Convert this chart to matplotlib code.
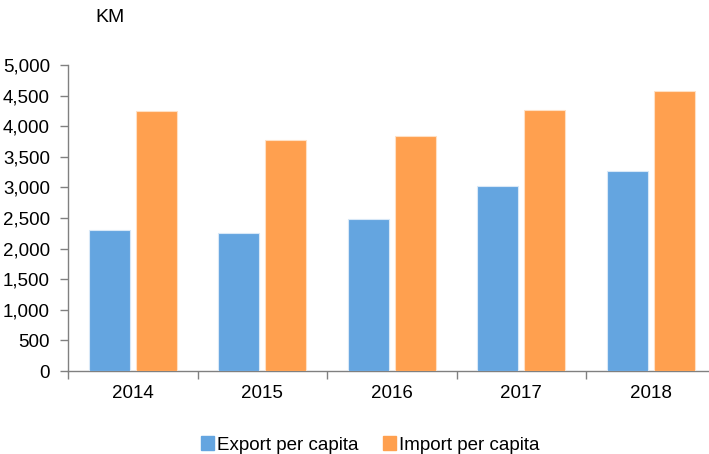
import matplotlib
matplotlib.use("Agg")
import matplotlib.pyplot as plt
import numpy as np
from matplotlib.patches import Patch

years = ["2014", "2015", "2016", "2017", "2018"]
export_pc = [2310, 2255, 2490, 3025, 3275]
import_pc = [4250, 3770, 3840, 4265, 4570]
yticks = [0, 500, 1000, 1500, 2000, 2500, 3000, 3500, 4000, 4500, 5000]

plt.rcParams['font.family'] = ['Liberation Sans', 'DejaVu Sans']
fs = 13.5

blue = "#64A5E0"
orange = "#FFA04F"
gray = "#808080"

fig = plt.figure(figsize=(7.09, 4.54), dpi=100)
ax = fig.add_axes([68/709, (454-371)/454, (715.5-68)/709, (371-65)/454])

x = np.arange(len(years))
w = 0.317
off = (w + 0.049) / 2
ax.bar(x - off, export_pc, width=w, color=blue, edgecolor="#d8e8f7", linewidth=0.8, zorder=3)
ax.bar(x + off, import_pc, width=w, color=orange, edgecolor="#ffe0c4", linewidth=0.8, zorder=3)

ax.set_xlim(-0.5, len(years) - 0.5)
ax.set_ylim(0, 5000)
ax.set_yticks(yticks)
ax.set_yticklabels([f"{v:,}" for v in yticks])
ax.set_xticks(x)
ax.set_xticklabels(years)
ax.set_xticks(np.arange(-0.5, len(years) - 0.4, 1.0), minor=True)

for s in ["top", "right"]:
    ax.spines[s].set_visible(False)
for s in ["left", "bottom"]:
    ax.spines[s].set_color(gray)
    ax.spines[s].set_linewidth(1.0)

ax.tick_params(axis="y", which="major", length=6, color=gray, width=1.0, labelsize=fs, pad=7)
ax.tick_params(axis="x", which="major", length=0, labelsize=fs, pad=10)
ax.tick_params(axis="x", which="minor", length=6, color=gray, width=1.0)

fig.text(110/709, 1 - 18/454, "KM", fontsize=14, ha="center", va="center")

handles = [Patch(color=blue), Patch(color=orange)]
fig.legend(handles, ["Export per capita", "Import per capita"], loc="center",
           bbox_to_anchor=(370/709, 1 - 445/454), ncol=2, frameon=False,
           fontsize=fs, handlelength=0.7, handleheight=0.7, handletextpad=0.15,
           columnspacing=1.3)

fig.savefig("out.png", dpi=100)
